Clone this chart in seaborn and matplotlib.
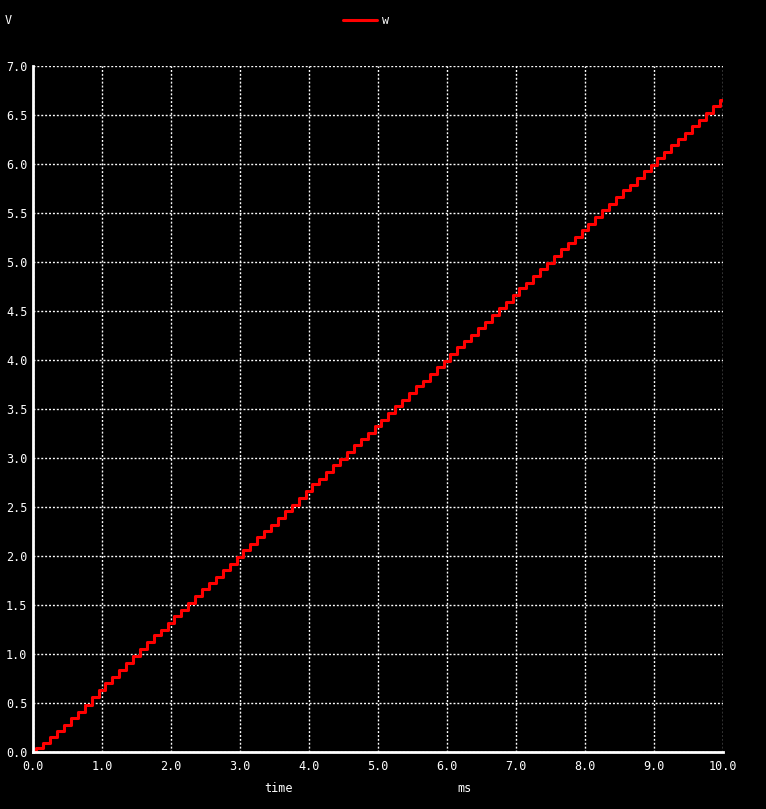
import matplotlib
matplotlib.use("Agg")
import matplotlib.pyplot as plt
import seaborn as sns
import pandas as pd

time_ms = [round(0.1 * i, 1) for i in range(101)]
w_volts = [
    0.00, 0.04, 0.09, 0.15, 0.21, 0.28, 0.35, 0.41, 0.48, 0.56,
    0.63, 0.70, 0.77, 0.84, 0.91, 0.98, 1.05, 1.12, 1.19, 1.25,
    1.32, 1.39, 1.45, 1.52, 1.59, 1.66, 1.72, 1.79, 1.86, 1.92,
    1.99, 2.06, 2.12, 2.19, 2.26, 2.32, 2.39, 2.46, 2.52, 2.59,
    2.66, 2.73, 2.79, 2.86, 2.93, 2.99, 3.06, 3.13, 3.19, 3.26,
    3.33, 3.39, 3.46, 3.53, 3.59, 3.66, 3.73, 3.79, 3.86, 3.93,
    3.99, 4.06, 4.13, 4.19, 4.26, 4.33, 4.39, 4.46, 4.53, 4.59,
    4.66, 4.73, 4.79, 4.86, 4.93, 4.99, 5.06, 5.13, 5.19, 5.26,
    5.33, 5.39, 5.46, 5.53, 5.59, 5.66, 5.73, 5.79, 5.86, 5.93,
    5.99, 6.06, 6.12, 6.19, 6.26, 6.32, 6.39, 6.45, 6.52, 6.59,
    6.65,
]
x_ticks = [0.0, 1.0, 2.0, 3.0, 4.0, 5.0, 6.0, 7.0, 8.0, 9.0, 10.0]
y_ticks = [0.0, 0.5, 1.0, 1.5, 2.0, 2.5, 3.0, 3.5, 4.0, 4.5, 5.0, 5.5, 6.0, 6.5, 7.0]
series_name = "w"

df = pd.DataFrame({"time": time_ms, "V": w_volts})

sns.set_style("dark")
plt.rcParams["font.family"] = ["DejaVu Sans Mono"]

W, H = 766, 809
fig = plt.figure(figsize=(W / 100, H / 100), dpi=100, facecolor="black")
ax = fig.add_axes([33 / W, 1 - 752 / H, (723 - 33) / W, (752 - 66) / H])
ax.set_facecolor("black")

sns.lineplot(data=df, x="time", y="V", ax=ax, color="#ff0000", linewidth=2.2,
             drawstyle="steps-mid", zorder=3)

ax.set_xlim(0, 10)
ax.set_ylim(0, 7)
ax.set_xticks(x_ticks)
ax.set_yticks(y_ticks)
ax.set_xticklabels([f"{v:.1f}" for v in x_ticks])
ax.set_yticklabels([f"{v:.1f}" for v in y_ticks])
ax.tick_params(axis="both", colors="white", length=0, labelsize=8.5, pad=4)
ax.tick_params(axis="x", pad=6)
ax.set_xlabel("")
ax.set_ylabel("")

ax.grid(True, color="white", linestyle=(0, (1.4, 1.4)), linewidth=1.0, zorder=1)
for s in ["top", "right"]:
    ax.spines[s].set_visible(False)
for s in ["left", "bottom"]:
    ax.spines[s].set_visible(True)
    ax.spines[s].set_color("white")
    ax.spines[s].set_linewidth(2)
    ax.spines[s].set_zorder(4)

# labels
fig.text(5 / W, 1 - 20 / H, "V", color="white", fontsize=8.5, va="center", ha="left")
fig.text(278 / W, 1 - 788 / H, "time", color="white", fontsize=8.5, va="center", ha="center")
fig.text(464 / W, 1 - 788 / H, "ms", color="white", fontsize=8.5, va="center", ha="center")

# legend
fig.lines.append(plt.Line2D([343 / W, 377 / W], [1 - 20 / H, 1 - 20 / H],
                            transform=fig.transFigure, color="#ff0000", linewidth=2.2))
fig.text(386 / W, 1 - 21 / H, series_name, color="white", fontsize=8.5, va="center", ha="center")

fig.savefig("out.png", dpi=100, facecolor="black")
